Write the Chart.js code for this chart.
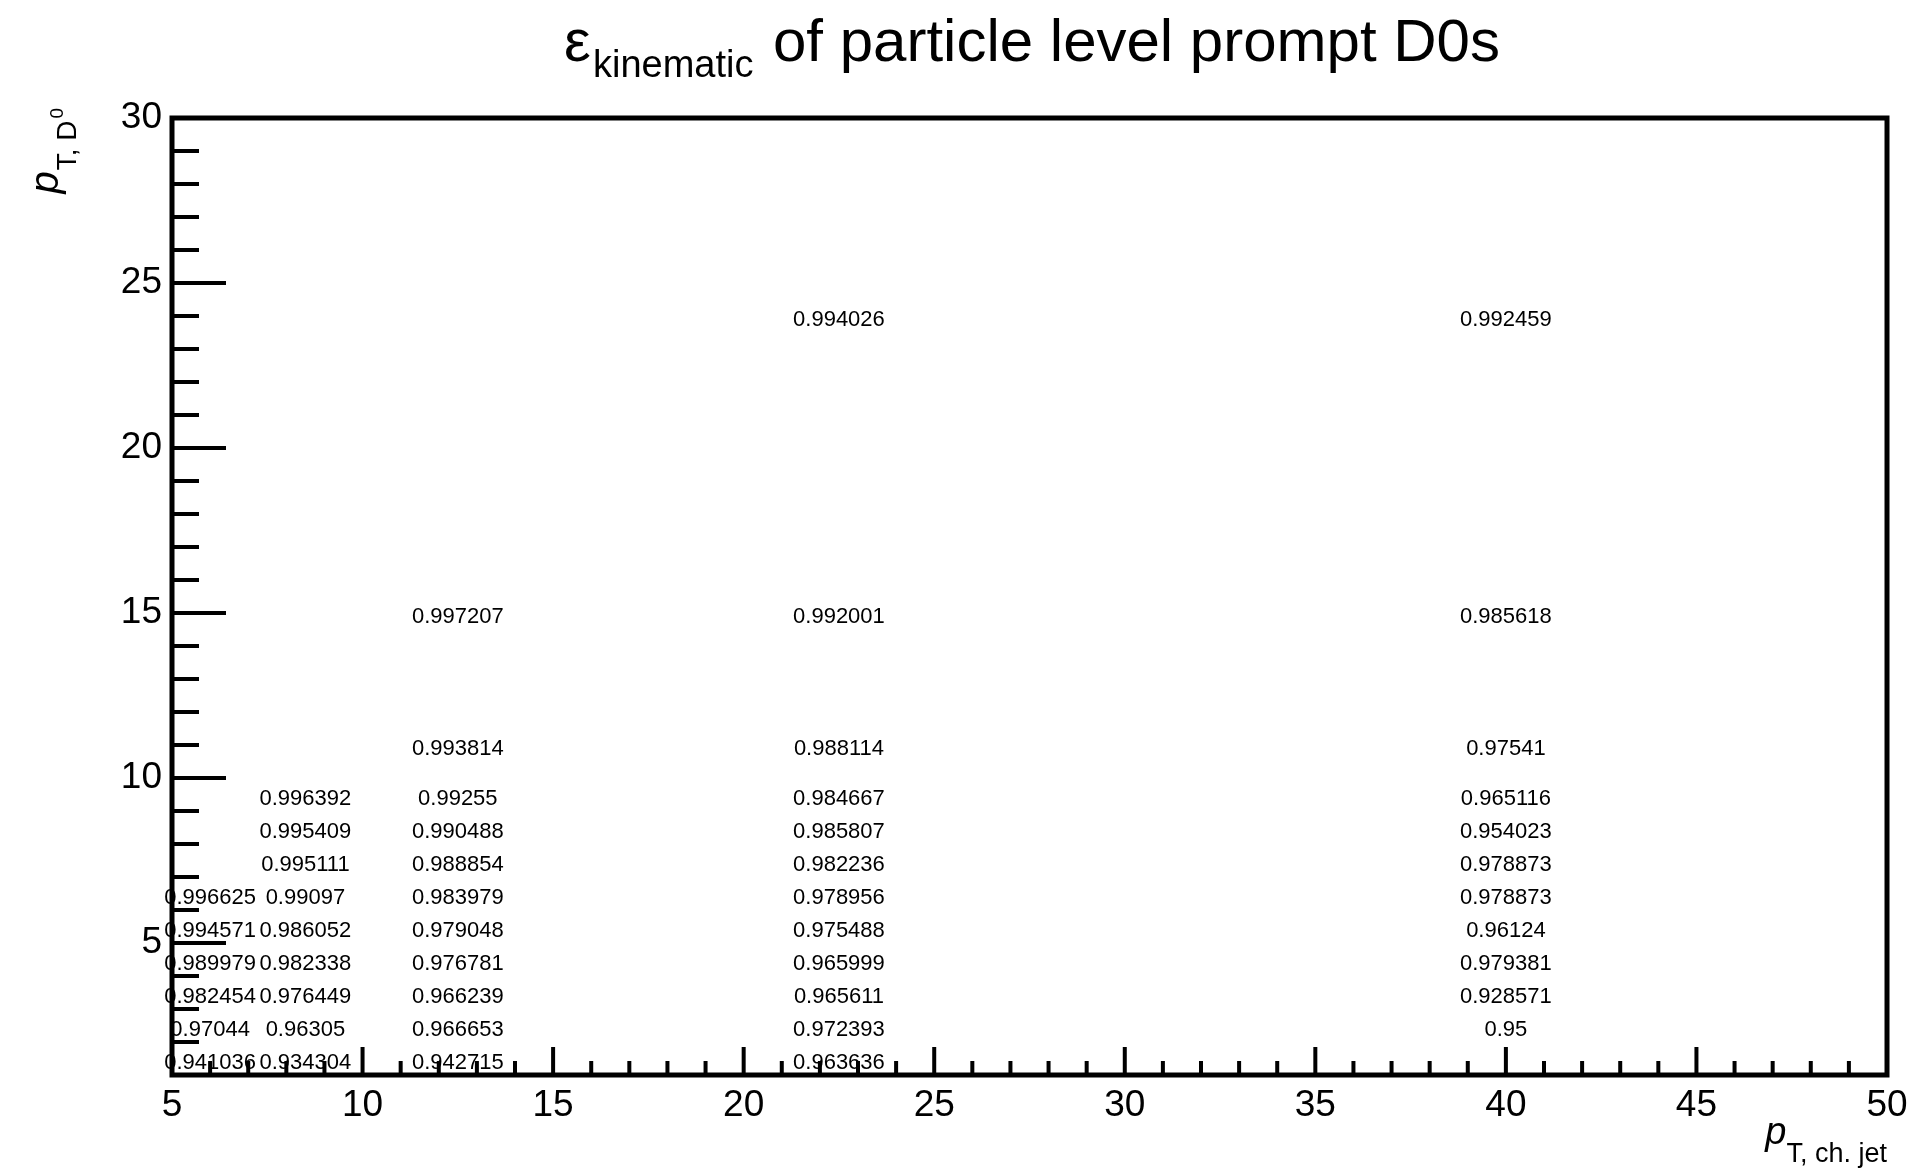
<!DOCTYPE html>
<html>
<head>
<meta charset="utf-8">
<script src="https://cdn.jsdelivr.net/npm/chart.js@4.4.1/dist/chart.umd.min.js"></script>
<style>
  html, body { margin: 0; padding: 0; background: #ffffff; }
  #wrap { width: 1910px; height: 1169px; }
</style>
</head>
<body>
<div id="wrap"><canvas id="effChart" width="1910" height="1169"></canvas></div>
<script>
// bin edges of the 2D histogram
const ptJetEdges = [5, 7, 10, 15, 30, 50];
const ptD0Edges = [1, 2, 3, 4, 5, 6, 7, 8, 9, 10, 12, 18, 30];

// kinematic efficiency per pT,jet bin, listed by pT,D0 bin (bottom to top), null = empty cell
const effJet5to7 = [0.941036, 0.97044, 0.982454, 0.989979, 0.994571, 0.996625, null, null, null, null, null, null];
const effJet7to10 = [0.934304, 0.96305, 0.976449, 0.982338, 0.986052, 0.99097, 0.995111, 0.995409, 0.996392, null, null, null];
const effJet10to15 = [0.942715, 0.966653, 0.966239, 0.976781, 0.979048, 0.983979, 0.988854, 0.990488, 0.99255, 0.993814, 0.997207, null];
const effJet15to30 = [0.963636, 0.972393, 0.965611, 0.965999, 0.975488, 0.978956, 0.982236, 0.985807, 0.984667, 0.988114, 0.992001, 0.994026];
const effJet30to50 = [null, 0.95, 0.928571, 0.979381, 0.96124, 0.978873, 0.978873, 0.954023, 0.965116, 0.97541, 0.985618, 0.992459];

const columns = [effJet5to7, effJet7to10, effJet10to15, effJet15to30, effJet30to50];

const FONT = '"Liberation Sans", Arial, Helvetica, sans-serif';

function binCenter(edges, i) {
  return (edges[i] + edges[i + 1]) / 2;
}

const datasets = columns.map((col, i) => {
  const pts = [];
  col.forEach((v, j) => {
    if (v === null) return;
    pts.push({ x: binCenter(ptJetEdges, i), y: binCenter(ptD0Edges, j), v: v });
  });
  return { data: pts, pointRadius: 0, pointHoverRadius: 0, showLine: false };
});

// cell text, drawn at each point's position
const cellText = {
  id: 'cellText',
  afterDatasetsDraw(chart) {
    const ctx = chart.ctx;
    ctx.save();
    ctx.fillStyle = '#000';
    ctx.font = '22px ' + FONT;
    ctx.textAlign = 'center';
    ctx.textBaseline = 'middle';
    chart.data.datasets.forEach((ds, i) => {
      const meta = chart.getDatasetMeta(i);
      meta.data.forEach((el, k) => {
        ctx.fillText(String(ds.data[k].v), el.x, el.y + 4);
      });
    });
    ctx.restore();
  }
};

// ROOT-like frame, inner ticks, title and axis titles
const rootFrame = {
  id: 'rootFrame',
  afterDraw(chart) {
    const ctx = chart.ctx;
    const a = chart.chartArea;
    const xs = chart.scales.x;
    const ys = chart.scales.y;
    ctx.save();
    ctx.strokeStyle = '#000';
    ctx.lineCap = 'butt';

    // ticks
    ctx.lineWidth = 4;
    ctx.beginPath();
    for (let v = xs.min; v <= xs.max; v++) {
      const px = xs.getPixelForValue(v);
      const len = v % 5 === 0 ? 28 : 14;
      ctx.moveTo(px, a.bottom);
      ctx.lineTo(px, a.bottom - len);
    }
    for (let v = ys.min; v <= ys.max; v++) {
      const py = ys.getPixelForValue(v);
      const len = v % 5 === 0 ? 54 : 27;
      ctx.moveTo(a.left, py);
      ctx.lineTo(a.left + len, py);
    }
    ctx.stroke();

    // frame
    ctx.lineWidth = 5;
    ctx.strokeRect(a.left, a.top, a.right - a.left, a.bottom - a.top);

    // title
    ctx.fillStyle = '#000';
    ctx.textBaseline = 'alphabetic';
    ctx.textAlign = 'left';
    ctx.font = '60px ' + FONT;
    ctx.fillText('\u03b5', 564, 61);
    ctx.font = '38px ' + FONT;
    ctx.fillText('kinematic', 593, 77);
    ctx.font = '60px ' + FONT;
    ctx.fillText('of particle level prompt D0s', 773, 61);

    // x axis title, right aligned to frame
    ctx.textAlign = 'right';
    ctx.font = '27px ' + FONT;
    const xsub = 'T, ch. jet';
    ctx.fillText(xsub, a.right, 1162);
    const xsubW = ctx.measureText(xsub).width;
    ctx.font = 'italic 38px ' + FONT;
    ctx.fillText('p', a.right - xsubW, 1144);

    // y axis title, rotated, ending at top of frame
    ctx.translate(58, a.top - 10);
    ctx.rotate(-Math.PI / 2);
    ctx.textAlign = 'left';
    ctx.font = 'italic 40px ' + FONT;
    const pW = ctx.measureText('p').width;
    ctx.font = '28px ' + FONT;
    const ysub = 'T, D';
    const ysubW = ctx.measureText(ysub).width;
    ctx.font = '19px ' + FONT;
    const supW = ctx.measureText('0').width;
    const total = pW + ysubW + supW + 3;
    let lx = -total;
    ctx.font = 'italic 40px ' + FONT;
    ctx.fillText('p', lx, 0);
    lx += pW + 1;
    ctx.font = '28px ' + FONT;
    ctx.fillText(ysub, lx, 18);
    lx += ysubW + 2;
    ctx.font = '19px ' + FONT;
    ctx.fillText('0', lx, 5);
    ctx.restore();
  }
};

new Chart(document.getElementById('effChart'), {
  type: 'scatter',
  data: { datasets: datasets },
  options: {
    responsive: false,
    animation: false,
    events: [],
    layout: { padding: { left: 0, top: 118, right: 23, bottom: 0 } },
    plugins: {
      legend: { display: false },
      tooltip: { enabled: false },
      title: { display: false }
    },
    scales: {
      x: {
        type: 'linear',
        min: 5,
        max: 50,
        grid: { display: false, drawTicks: false },
        border: { display: false },
        ticks: {
          stepSize: 5,
          padding: 9,
          color: '#000',
          font: { family: FONT, size: 37 },
          maxRotation: 0
        },
        afterFit(scale) {
          scale.height = 94;
          scale.paddingLeft = 0;
          scale.paddingRight = 0;
        }
      },
      y: {
        type: 'linear',
        min: 1,
        max: 30,
        grid: { display: false, drawTicks: false },
        border: { display: false },
        ticks: {
          stepSize: 5,
          padding: 10,
          color: '#000',
          font: { family: FONT, size: 37 }
        },
        afterBuildTicks(scale) {
          scale.ticks = scale.ticks.filter(t => t.value % 5 === 0);
        },
        afterFit(scale) {
          scale.width = 172;
          scale.paddingTop = 0;
          scale.paddingBottom = 0;
        }
      }
    }
  },
  plugins: [cellText, rootFrame]
});
</script>
</body>
</html>
